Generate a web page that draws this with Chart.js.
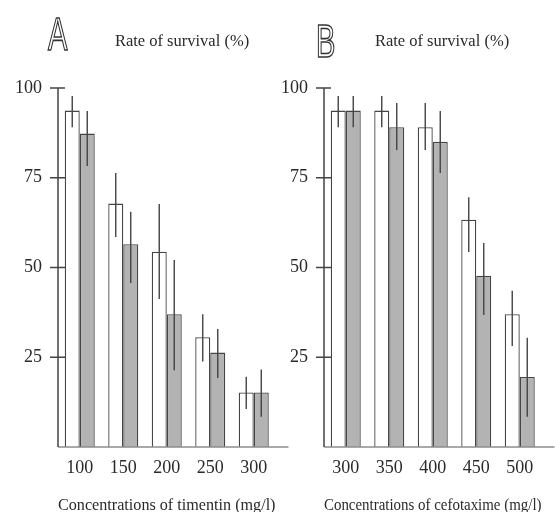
<!DOCTYPE html>
<html>
<head>
<meta charset="utf-8">
<script src="https://cdn.jsdelivr.net/npm/chart.js@4.4.0/dist/chart.umd.min.js"></script>
<style>
  html, body { margin: 0; padding: 0; background: #fff; overflow: hidden; width: 555px; height: 512px; }
  .panel { position: absolute; top: 0; }
  #wrapA { left: 0; }
  #wrapB { left: 270px; }
</style>
</head>
<body>
<div class="panel" id="wrapA"><canvas id="chartA" width="290" height="512"></canvas></div>
<div class="panel" id="wrapB"><canvas id="chartB" width="290" height="512"></canvas></div>
<script>
// Panel A - timentin
var catsA = ['100', '150', '200', '250', '300'];
var whiteA = [93.7, 67.8, 54.4, 30.6, 15.2];
var grayA = [87.3, 56.5, 37.0, 26.3, 15.2];
var whiteLowA = [89.1, 58.5, 41.2, 23.8, 10.6];
var whiteHighA = [97.8, 76.3, 67.7, 37.0, 19.6];
var grayLowA = [78.3, 45.7, 21.4, 19.2, 8.4];
var grayHighA = [93.6, 65.5, 52.1, 32.9, 21.6];

// Panel B - cefotaxime
var catsB = ['300', '350', '400', '450', '500'];
var whiteB = [93.7, 93.7, 89.1, 63.3, 37.0];
var grayB = [93.7, 89.1, 85.0, 47.7, 19.5];
var whiteLowB = [89.1, 89.1, 82.7, 54.3, 28.1];
var whiteHighB = [97.8, 97.8, 95.8, 69.6, 43.5];
var grayLowB = [89.1, 82.7, 76.3, 36.8, 8.4];
var grayHighB = [97.8, 95.8, 93.6, 56.8, 30.4];

var yTicks = [25, 50, 75, 100];
var serif = '"Liberation Serif", "Times New Roman", serif';
var ink = '#2a2a2a';

// error bars, axis line, crossing ticks, baseline, letter + top title
var panelPlugin = {
    id: 'panelDecor',
    afterDatasetsDraw: function (chart, args, opts) {
        var ctx = chart.ctx;
        var y = chart.scales.y;
        var area = chart.chartArea;

        // error bars (no caps)
        ctx.save();
        ctx.strokeStyle = '#444';
        ctx.lineWidth = 1.4;
        ctx.beginPath();
        chart.data.datasets.forEach(function (ds, i) {
            var meta = chart.getDatasetMeta(i);
            meta.data.forEach(function (bar, j) {
                ctx.moveTo(bar.x, y.getPixelForValue(ds.errLow[j]));
                ctx.lineTo(bar.x, y.getPixelForValue(ds.errHigh[j]));
            });
        });
        ctx.stroke();

        // baseline
        ctx.strokeStyle = '#8c8c8c';
        ctx.lineWidth = 1.5;
        ctx.beginPath();
        ctx.moveTo(area.left, area.bottom);
        ctx.lineTo(area.right + 13, area.bottom);
        ctx.stroke();

        // y axis line
        ctx.strokeStyle = '#444';
        ctx.lineWidth = 1.5;
        ctx.beginPath();
        ctx.moveTo(area.left, area.top);
        ctx.lineTo(area.left, area.bottom);
        // tick marks crossing the axis
        yTicks.forEach(function (v) {
            var py = y.getPixelForValue(v);
            ctx.moveTo(area.left - 8, py);
            ctx.lineTo(area.left + 7, py);
        });
        ctx.stroke();

        // outlined panel letter
        ctx.save();
        ctx.translate(opts.letterX, opts.letterY);
        ctx.scale(0.62, 1);
        ctx.font = '47px "Liberation Sans", Arial, sans-serif';
        ctx.textBaseline = 'alphabetic';
        ctx.textAlign = 'left';
        ctx.strokeStyle = '#333';
        ctx.lineWidth = 1.6;
        ctx.strokeText(opts.letter, 0, 0);
        ctx.restore();

        // top title
        ctx.fillStyle = ink;
        ctx.font = '16.5px ' + serif;
        ctx.textAlign = 'center';
        ctx.textBaseline = 'middle';
        ctx.fillText('Rate of survival (%)', opts.titleX, 42);
        ctx.restore();
    }
};

function makePanel(canvasId, cats, white, gray, wLow, wHigh, gLow, gHigh, xTitle, yWidth, padRight, deco) {
    return new Chart(document.getElementById(canvasId), {
        type: 'bar',
        data: {
            labels: cats,
            datasets: [{
                data: white,
                errLow: wLow,
                errHigh: wHigh,
                backgroundColor: '#ffffff',
                borderColor: '#454545',
                borderWidth: 1.3,
                categoryPercentage: 0.69,
                barPercentage: 1
            }, {
                data: gray,
                errLow: gLow,
                errHigh: gHigh,
                backgroundColor: '#b3b3b3',
                borderColor: '#454545',
                borderWidth: 1.3,
                categoryPercentage: 0.69,
                barPercentage: 1
            }]
        },
        options: {
            responsive: false,
            animation: false,
            devicePixelRatio: 1,
            layout: { padding: { top: 88, right: padRight, left: 0, bottom: 0 } },
            plugins: {
                legend: { display: false },
                tooltip: { enabled: false },
                panelDecor: deco
            },
            scales: {
                x: {
                    type: 'category',
                    offset: true,
                    grid: { display: false, drawTicks: false },
                    border: { display: false },
                    ticks: { color: ink, padding: 10, font: { family: serif, size: 18 } },
                    title: {
                        display: true,
                        text: xTitle,
                        color: ink,
                        padding: { top: 0, bottom: -2 },
                        font: { family: serif, size: 17, lineHeight: 1 }
                    },
                    afterFit: function (s) { s.height = 65; }
                },
                y: {
                    min: 0,
                    max: 100,
                    grid: { display: false, drawTicks: false },
                    border: { display: false },
                    ticks: {
                        stepSize: 25,
                        color: ink,
                        padding: 16,
                        font: { family: serif, size: 18 },
                        callback: function (v) { return v === 0 ? '' : v; }
                    },
                    afterFit: function (s) { s.width = yWidth; }
                }
            }
        },
        plugins: [panelPlugin]
    });
}

makePanel('chartA', catsA, whiteA, grayA, whiteLowA, whiteHighA, grayLowA, grayHighA,
    'Concentrations of timentin (mg/l)', 58, 14.5,
    { letter: 'A', letterX: 48, letterY: 50, titleX: 182 });

makePanel('chartB', catsB, whiteB, grayB, whiteLowB, whiteHighB, grayLowB, grayHighB,
    'Concentrations of cefotaxime (mg/l)', 54, 18.5,
    { letter: 'B', letterX: 46, letterY: 57, titleX: 172 });
</script>
</body>
</html>
